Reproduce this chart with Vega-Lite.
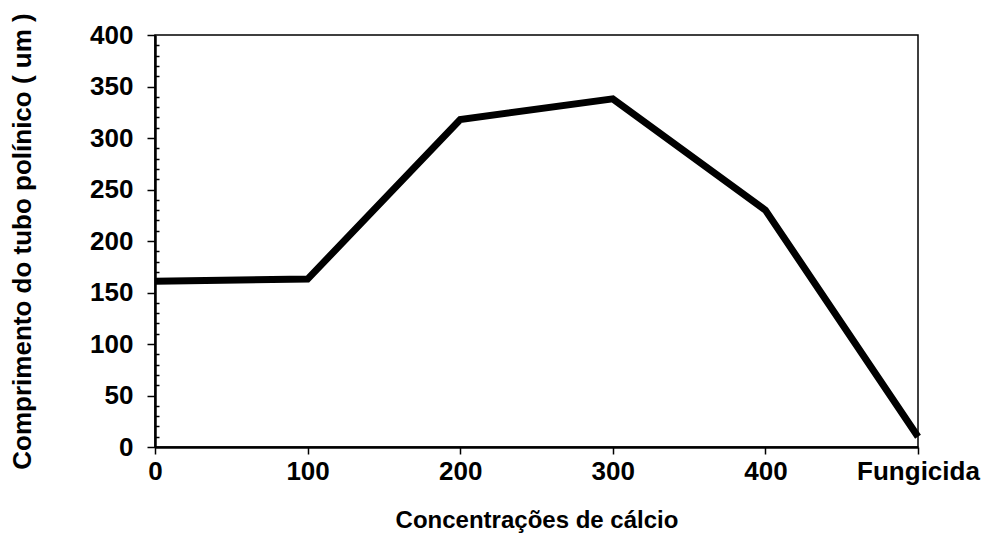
{
  "$schema": "https://vega.github.io/schema/vega-lite/v6.json",
  "autosize": "none",
  "width": 763,
  "height": 412,
  "padding": {"left": 155, "top": 35, "right": 70, "bottom": 101},
  "background": "white",
  "config": {
    "view": {"stroke": "black", "strokeWidth": 1.5},
    "font": "Liberation Sans",
    "axis": {
      "labelFont": "Liberation Sans",
      "titleFont": "Liberation Sans",
      "labelFontWeight": "bold",
      "titleFontWeight": "bold",
      "labelColor": "black",
      "titleColor": "black",
      "domainColor": "black",
      "tickColor": "black",
      "labelFontSize": 26,
      "titleFontSize": 24,
      "grid": false,
      "domainWidth": 2.5
    }
  },
  "resolve": {"axis": {"y": "independent"}},
  "data": {
    "values": [
      {"conc": "0", "comp": 161},
      {"conc": "100", "comp": 163},
      {"conc": "200", "comp": 318},
      {"conc": "300", "comp": 338},
      {"conc": "400", "comp": 230},
      {"conc": "Fungicida", "comp": 10}
    ]
  },
  "layer": [
    {
      "mark": {"type": "line", "color": "black", "strokeWidth": 7, "strokeJoin": "miter"},
      "encoding": {
        "x": {
          "field": "conc",
          "type": "ordinal",
          "sort": null,
          "scale": {"type": "point", "padding": 0},
          "axis": {
            "title": "Concentrações de cálcio",
            "labelAngle": 0,
            "tickSize": 7,
            "tickWidth": 1.5,
            "labelPadding": 4,
            "titlePadding": 24
          }
        },
        "y": {
          "field": "comp",
          "type": "quantitative",
          "scale": {"domain": [0, 400], "nice": false},
          "axis": {
            "title": "Comprimento do tubo polínico ( um )",
            "titleFontSize": 26,
            "values": [0, 50, 100, 150, 200, 250, 300, 350, 400],
            "tickSize": 8,
            "tickWidth": 1.5,
            "labelPadding": 14,
            "titlePadding": 54
          }
        }
      }
    },
    {
      "mark": {"type": "line", "opacity": 0},
      "encoding": {
        "x": {"field": "conc", "type": "ordinal", "sort": null},
        "y": {
          "field": "comp",
          "type": "quantitative",
          "scale": {"domain": [0, 400], "nice": false},
          "axis": {
            "orient": "right",
            "offset": -763,
            "title": null,
            "labels": false,
            "domain": false,
            "values": [10, 20, 30, 40, 60, 70, 80, 90, 110, 120, 130, 140, 160, 170, 180, 190, 210, 220, 230, 240, 260, 270, 280, 290, 310, 320, 330, 340, 360, 370, 380, 390],
            "tickSize": 4,
            "tickWidth": 1.5
          }
        }
      }
    }
  ]
}
